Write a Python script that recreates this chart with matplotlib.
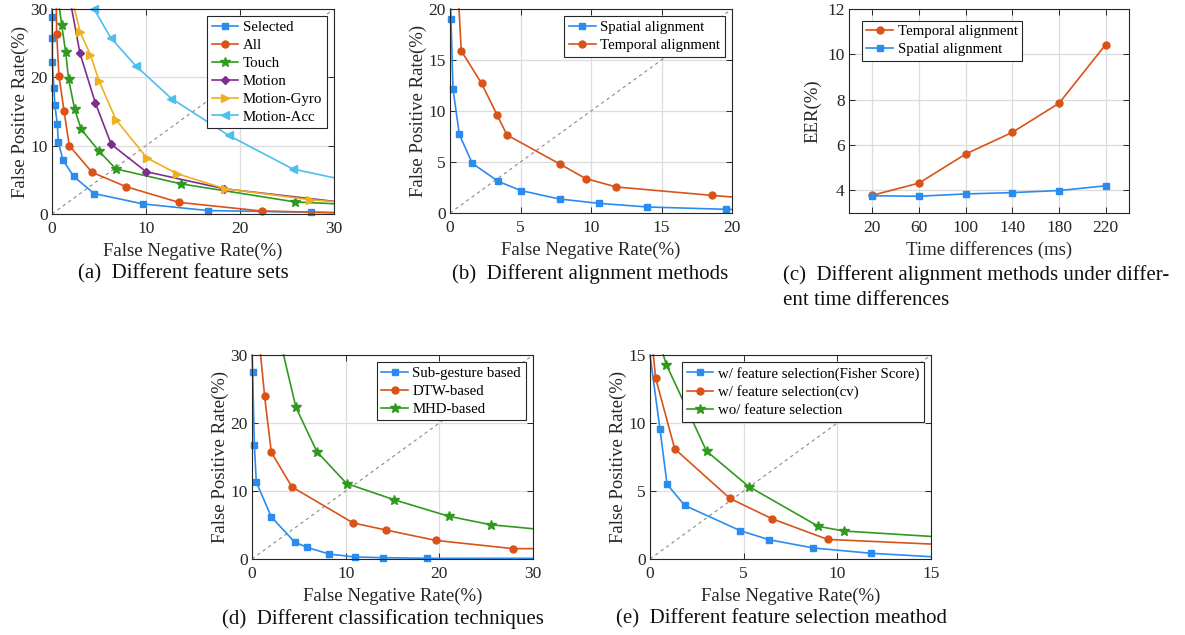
import matplotlib
matplotlib.use("Agg")
import matplotlib.pyplot as plt

plt.rcParams['font.family'] = ['Liberation Serif', 'DejaVu Serif']
plt.rcParams['mathtext.fontset'] = 'stix'

# ---------------- data ----------------
# (a) Different feature sets  (first/last entries are line-only end points)
sel_fnr = [0.0, 0.0, 0.04, 0.04, 0.2, 0.3, 0.57, 0.67, 1.17, 2.3, 4.47, 9.7, 16.6, 27.6, 30.0]
sel_fpr = [30.0, 28.8, 25.7, 22.2, 18.4, 16.0, 13.1, 10.5, 7.9, 5.5, 3.0, 1.47, 0.5, 0.25, 0.2]
all_fnr = [0.46, 0.5, 0.74, 1.28, 1.84, 4.26, 7.87, 13.5, 22.3, 30.0]
all_fpr = [30.0, 26.4, 20.2, 15.1, 10.0, 6.1, 4.0, 1.7, 0.44, 0.2]
tch_fnr = [0.8, 1.03, 1.45, 1.77, 2.4, 3.1, 5.0, 6.8, 13.76, 25.9, 30.0]
tch_fpr = [30.0, 27.7, 23.7, 19.7, 15.4, 12.4, 9.2, 6.6, 4.4, 1.76, 1.5]
mot_fnr = [2.1, 2.98, 4.6, 6.3, 10.0, 18.3, 30.0]
mot_fpr = [30.0, 23.5, 16.3, 10.2, 6.2, 3.7, 1.85]
gyr_fnr = [2.4, 3.0, 4.08, 5.0, 6.8, 10.1, 13.3, 18.4, 27.4, 30.0]
gyr_fpr = [30.0, 26.6, 23.3, 19.5, 13.8, 8.2, 5.9, 3.7, 2.1, 1.8]
acc_fnr = [4.47, 6.24, 8.9, 12.7, 18.8, 25.6, 30.0]
acc_fpr = [30.0, 25.8, 21.7, 16.9, 11.5, 6.6, 5.3]

# (b) Different alignment methods
spa_fnr = [0.05, 0.07, 0.21, 0.66, 1.58, 3.42, 5.03, 7.77, 10.55, 14.0, 19.6, 20.0]
spa_fpr = [20.0, 19.05, 12.2, 7.7, 4.87, 3.1, 2.2, 1.37, 0.95, 0.59, 0.36, 0.35]
tem_fnr = [0.64, 0.8, 2.24, 3.33, 4.04, 7.79, 9.63, 11.8, 18.56, 20.0]
tem_fpr = [20.0, 15.9, 12.7, 9.64, 7.65, 4.8, 3.37, 2.55, 1.73, 1.57]

# (c) EER vs time differences
time_ms = [20, 60, 100, 140, 180, 220]
eer_temporal = [3.78, 4.32, 5.6, 6.56, 7.84, 10.43]
eer_spatial = [3.76, 3.74, 3.84, 3.9, 3.99, 4.2]

# (d) Different classification techniques
sub_fnr = [0.0, 0.07, 0.25, 0.46, 2.06, 4.54, 5.9, 8.24, 11.0, 14.0, 18.7, 30.0]
sub_fpr = [30.0, 27.5, 16.8, 11.3, 6.2, 2.5, 1.7, 0.73, 0.29, 0.2, 0.1, 0.1]
dtw_fnr = [0.92, 1.35, 2.06, 4.26, 10.8, 14.3, 19.6, 27.9, 30.0]
dtw_fpr = [30.0, 23.9, 15.7, 10.6, 5.3, 4.26, 2.74, 1.52, 1.52]
mhd_fnr = [3.37, 4.69, 6.92, 10.1, 15.2, 21.05, 25.5, 30.0]
mhd_fpr = [30.0, 22.3, 15.8, 11.1, 8.7, 6.27, 5.04, 4.45]

# (e) Different feature selection methods
fis_fnr = [0.0, 0.53, 0.91, 1.85, 4.82, 6.35, 8.72, 11.8, 15.0]
fis_fpr = [15.0, 9.57, 5.5, 3.94, 2.08, 1.42, 0.81, 0.42, 0.17]
cv_fnr = [0.18, 0.3, 1.32, 4.27, 6.51, 9.48, 15.0]
cv_fpr = [15.0, 13.3, 8.1, 4.45, 2.96, 1.44, 1.1]
wo_fnr = [0.71, 0.87, 3.02, 5.27, 8.99, 10.34, 15.0]
wo_fpr = [15.0, 14.3, 7.93, 5.33, 2.4, 2.06, 1.66]

# ---------------- style ----------------
BLUE = '#2b8cf0'
ORANGE = '#d95319'
GREEN = '#2f9a1e'
PURPLE = '#7e2f8e'
YELLOW = '#edb120'
LBLUE = '#4dbeee'

W, H = 1185, 635
fig = plt.figure(figsize=(W / 100, H / 100), dpi=100)

TICK_FS = 12.5
LAB_FS = 13.5
LEG_FS = 10.7
CAP_FS = 15


def make_ax(x0, y0, x1, y1):
    ax = fig.add_axes([x0 / W, 1 - y1 / H, (x1 - x0) / W, (y1 - y0) / H])
    ax.grid(True, color='#dcdcdc', linewidth=0.9)
    ax.set_axisbelow(True)
    for s in ax.spines.values():
        s.set_color('#262626')
        s.set_linewidth(0.8)
    ax.tick_params(direction='in', top=True, right=True, length=4, width=0.7,
                   labelsize=TICK_FS, colors='#262626')
    ax.tick_params(axis='x', pad=5)
    ax.tick_params(axis='y', pad=3)
    return ax


def labels(ax, xl, yl, ylpad=1):
    ax.set_xlabel(xl, fontsize=LAB_FS, labelpad=4, color='#262626')
    ax.set_ylabel(yl, fontsize=LAB_FS, labelpad=ylpad, color='#262626')


def diag(ax, m):
    ax.plot([0, m], [0, m], color='#8a8a8a', lw=0.8, dashes=(3, 3), zorder=1)


def leg(ax, **kw):
    lg = ax.legend(fontsize=LEG_FS, fancybox=False, framealpha=1, edgecolor='#262626',
                   handlelength=1.8, handletextpad=0.3, borderpad=0.3, labelspacing=0.3,
                   borderaxespad=0.5, **kw)
    lg.get_frame().set_linewidth(0.8)
    return lg


LW = 1.2
MS = 5


def curve(ax, x, y, color, marker, ms, label, first=1):
    ax.plot(x, y, color=color, lw=LW, marker=marker, ms=ms,
            markevery=list(range(first, len(x) - 1)), label=label, clip_on=False)


# (a)
ax = make_ax(52, 9, 334, 214)
diag(ax, 30)
curve(ax, sel_fnr, sel_fpr, BLUE, 's', MS, 'Selected')
curve(ax, all_fnr, all_fpr, ORANGE, 'o', MS, 'All')
curve(ax, tch_fnr, tch_fpr, GREEN, '*', MS + 2, 'Touch')
curve(ax, mot_fnr, mot_fpr, PURPLE, 'D', MS - 0.5, 'Motion')
curve(ax, gyr_fnr, gyr_fpr, YELLOW, '>', MS + 1, 'Motion-Gyro')
curve(ax, acc_fnr, acc_fpr, LBLUE, '<', MS + 1, 'Motion-Acc', first=0)
ax.set_xlim(0, 30); ax.set_ylim(0, 30)
ax.set_xticks([0, 10, 20, 30]); ax.set_yticks([0, 10, 20, 30])
labels(ax, 'False Negative Rate(%)', 'False Positive Rate(%)')
leg(ax, loc='upper right')

# (b)
ax = make_ax(450, 9, 732, 213)
diag(ax, 20)
curve(ax, spa_fnr, spa_fpr, BLUE, 's', MS, 'Spatial alignment')
curve(ax, tem_fnr, tem_fpr, ORANGE, 'o', MS, 'Temporal alignment')
ax.set_xlim(0, 20); ax.set_ylim(0, 20)
ax.set_xticks([0, 5, 10, 15, 20]); ax.set_yticks([0, 5, 10, 15, 20])
labels(ax, 'False Negative Rate(%)', 'False Positive Rate(%)')
leg(ax, loc='upper right')

# (c)
ax = make_ax(849, 9, 1129, 213)
ax.plot(time_ms, eer_temporal, color=ORANGE, lw=LW, marker='o', ms=MS, label='Temporal alignment')
ax.plot(time_ms, eer_spatial, color=BLUE, lw=LW, marker='s', ms=MS, label='Spatial alignment')
ax.set_xlim(0, 240); ax.set_ylim(3, 12)
ax.set_xticks(time_ms); ax.set_yticks([4, 6, 8, 10, 12])
labels(ax, 'Time differences (ms)', 'EER(%)', ylpad=4)
leg(ax, loc='upper left', bbox_to_anchor=(0.02, 0.98))

# (d)
ax = make_ax(252, 355, 533, 559)
diag(ax, 30)
curve(ax, sub_fnr, sub_fpr, BLUE, 's', MS, 'Sub-gesture based')
curve(ax, dtw_fnr, dtw_fpr, ORANGE, 'o', MS, 'DTW-based')
curve(ax, mhd_fnr, mhd_fpr, GREEN, '*', MS + 2, 'MHD-based')
ax.set_xlim(0, 30); ax.set_ylim(0, 30)
ax.set_xticks([0, 10, 20, 30]); ax.set_yticks([0, 10, 20, 30])
labels(ax, 'False Negative Rate(%)', 'False Positive Rate(%)')
leg(ax, loc='upper right')

# (e)
ax = make_ax(650, 355, 931, 559)
diag(ax, 15)
curve(ax, fis_fnr, fis_fpr, BLUE, 's', MS, 'w/ feature selection(Fisher Score)')
curve(ax, cv_fnr, cv_fpr, ORANGE, 'o', MS, 'w/ feature selection(cv)')
curve(ax, wo_fnr, wo_fpr, GREEN, '*', MS + 2, 'wo/ feature selection')
ax.set_xlim(0, 15); ax.set_ylim(0, 15)
ax.set_xticks([0, 5, 10, 15]); ax.set_yticks([0, 5, 10, 15])
labels(ax, 'False Negative Rate(%)', 'False Positive Rate(%)')
leg(ax, loc='upper right')


# captions
def cap(x, y, s, ha='center'):
    fig.text(x / W, 1 - y / H, s, fontsize=CAP_FS, ha=ha, va='center', color='#111111')


cap(183, 274, '(a)  Different feature sets')
cap(590, 274, '(b)  Different alignment methods')
cap(783, 275, '(c)  Different alignment methods under differ-', ha='left')
cap(783, 300, 'ent time differences', ha='left')
cap(383, 619, '(d)  Different classification techniques')
cap(782, 619, '(e)  Different feature selection meathod')

fig.savefig('out.png', dpi=100)
